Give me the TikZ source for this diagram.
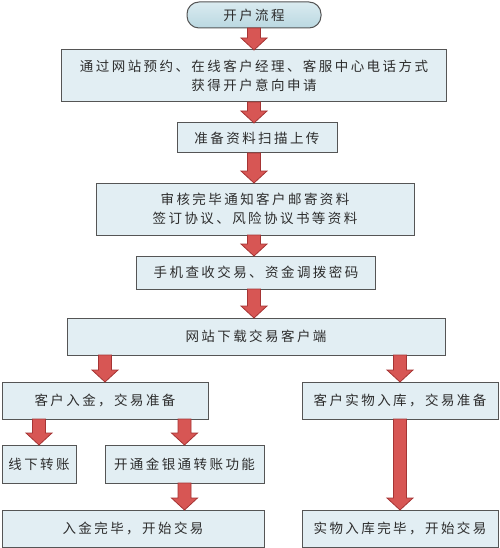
\documentclass[tikz,border=0pt]{standalone}
\usepackage{fontspec}
\usepackage{xcolor}
\usepackage{tikz}
\usetikzlibrary{positioning, calc, backgrounds}
\newfontfamily\cjk{Noto Sans CJK SC}[LetterSpace=18]
\definecolor{boxfill}{RGB}{226,238,243}
\definecolor{starttop}{RGB}{218,235,240}
\definecolor{startbottom}{RGB}{186,216,225}
\definecolor{boxedge}{RGB}{85,85,85}
\definecolor{arrowred}{RGB}{215,86,84}
\definecolor{arrowedge}{RGB}{165,52,52}
\definecolor{textgray}{RGB}{45,45,45}
\newcommand{\flowarrow}[2]{%
  \path[arrowbody] let \p1=(#1), \p2=(#2) in
    (\x1-6.5pt,\y1) -- (\x1+6.5pt,\y1) -- (\x1+6.5pt,\y2+12pt) -- (\x1+13pt,\y2+12pt)
    -- (\x1,\y2) -- (\x1-13pt,\y2+12pt) -- (\x1-6.5pt,\y2+12pt) -- cycle;}

\begin{document}
\begin{tikzpicture}[
    x=1pt, y=1pt,
    every node/.style={font=\cjk\fontsize{13.5}{19.5}\selectfont, text=textgray},
    stepbox/.style={rectangle, draw=boxedge, line width=1pt, fill=boxfill, inner sep=0pt, outer sep=0pt, align=center},
    startbox/.style={stepbox, top color=starttop, bottom color=startbottom, rounded corners=12pt},
    arrowbody/.style={draw=arrowedge, fill=arrowred, line width=0.8pt, line join=miter}
]
\useasboundingbox (0,0) rectangle (499,-548);
\node (start) [startbox, minimum width=134pt, minimum height=26pt] at (254,-15) {开户流程};
\node (apply) [stepbox, minimum width=385pt, minimum height=52pt, below=22pt of start] {通过网站预约、在线客户经理、客服中心电话方式\\获得开户意向申请};
\node (upload) [stepbox, minimum width=160pt, minimum height=30pt, below=21pt of apply, xshift=3pt] {准备资料扫描上传};
\node (review) [stepbox, minimum width=318pt, minimum height=52pt, below=30pt of upload, xshift=-2pt] {审核完毕通知客户邮寄资料\\签订协议、风险协议书等资料};
\node (password) [stepbox, minimum width=239pt, minimum height=33pt, below=21pt of review, xshift=1pt] {手机查收交易、资金调拨密码};
\node (client) [stepbox, minimum width=378pt, minimum height=37pt, below=29pt of password] {网站下载交易客户端};
\node (deposit) [stepbox, minimum width=206pt, minimum height=37pt, below=27pt of client, xshift=-151pt] {客户入金，交易准备};
\node (stock) [stepbox, minimum width=196pt, minimum height=37pt, below=27pt of client, xshift=144pt] {客户实物入库，交易准备};
\node (offline) [stepbox, minimum width=74pt, minimum height=38pt, below=26pt of deposit, xshift=-66pt] {线下转账};
\node (bank) [stepbox, minimum width=159pt, minimum height=38pt, below=26pt of deposit, xshift=79.5pt] {开通金银通转账功能};
\node (done) [stepbox, minimum width=262pt, minimum height=37pt, below=27pt of bank, xshift=-51.5pt] {入金完毕，开始交易};
\node (stockdone) [stepbox, minimum width=196pt, minimum height=37pt, below=91pt of stock] {实物入库完毕，开始交易};

\flowarrow{start.south}{start.south |- apply.north}
\flowarrow{apply.south -| start.south}{upload.north -| start.south}
\flowarrow{upload.south -| start.south}{review.north -| start.south}
\flowarrow{review.south -| start.south}{password.north -| start.south}
\flowarrow{password.south -| start.south}{client.north -| start.south}
\flowarrow{client.south -| deposit.north}{deposit.north}
\flowarrow{client.south -| stock.north}{stock.north}
\flowarrow{deposit.south -| offline.north}{offline.north}
\flowarrow{deposit.south -| bank.north}{bank.north}
\flowarrow{bank.south}{bank.south |- done.north}
\flowarrow{stock.south}{stockdone.north}
\end{tikzpicture}
\end{document}
